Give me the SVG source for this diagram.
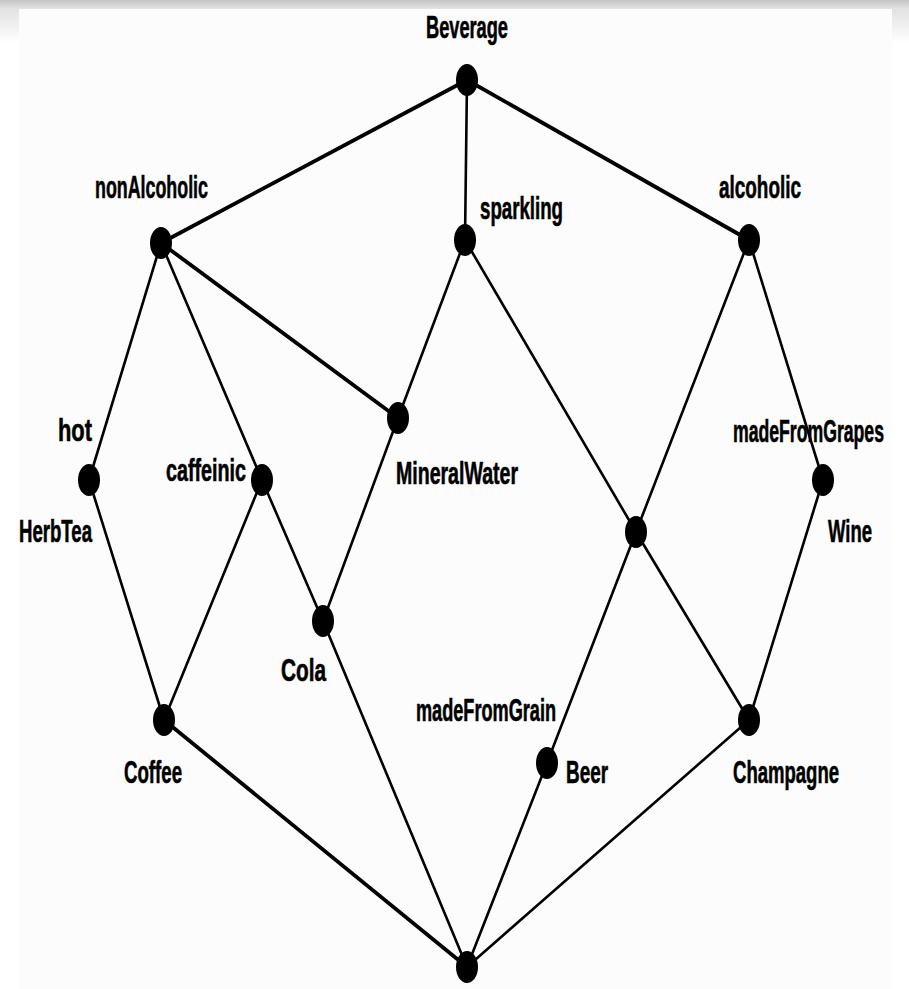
<svg xmlns="http://www.w3.org/2000/svg" width="909" height="989" viewBox="0 0 909 989">
<defs>
<linearGradient id="topg" x1="0" y1="0" x2="0" y2="1"><stop offset="0" stop-color="#c4c4c4"/><stop offset="1" stop-color="#e4e4e4"/></linearGradient>
<linearGradient id="sideg" x1="0" y1="0" x2="0" y2="1"><stop offset="0" stop-color="#e2e2e2"/><stop offset="1" stop-color="#ffffff"/></linearGradient>
</defs>
<style>
.n{fill:#000}
.t{font-family:"Liberation Sans",Arial,sans-serif;font-weight:bold;font-size:31px;fill:#000;stroke:#000;stroke-width:0.6}
.e{stroke:#000;stroke-width:2.6;fill:none;stroke-linecap:round}
.k{stroke-width:3.8}
</style>
<rect x="0" y="0" width="909" height="989" fill="#ffffff"/>
<rect x="0" y="9" width="19" height="34" fill="url(#sideg)"/>
<rect x="892" y="9" width="17" height="34" fill="url(#sideg)"/>
<rect x="19" y="9" width="873" height="980" fill="#fbfcfb"/>
<rect x="0" y="0" width="909" height="9" fill="url(#topg)"/>
<g id="connectors">
<line class="e k" x1="467" y1="80" x2="161" y2="243"/>
<line class="e" x1="467" y1="80" x2="465" y2="240"/>
<line class="e k" x1="467" y1="80" x2="749" y2="240"/>
<line class="e" x1="161" y1="243" x2="89" y2="480"/>
<line class="e" x1="161" y1="243" x2="262" y2="480"/>
<line class="e k" x1="161" y1="243" x2="398" y2="418"/>
<line class="e" x1="465" y1="240" x2="398" y2="418"/>
<line class="e" x1="465" y1="240" x2="636" y2="532"/>
<line class="e" x1="749" y1="240" x2="636" y2="532"/>
<line class="e" x1="749" y1="240" x2="823" y2="480"/>
<line class="e" x1="89" y1="480" x2="164" y2="720"/>
<line class="e" x1="262" y1="480" x2="164" y2="720"/>
<line class="e" x1="262" y1="480" x2="323" y2="621"/>
<line class="e" x1="398" y1="418" x2="323" y2="621"/>
<line class="e" x1="636" y1="532" x2="547" y2="763"/>
<line class="e" x1="636" y1="532" x2="749" y2="720"/>
<line class="e" x1="823" y1="480" x2="749" y2="720"/>
<line class="e k" x1="164" y1="720" x2="467" y2="967"/>
<line class="e" x1="323" y1="621" x2="467" y2="967"/>
<line class="e" x1="547" y1="763" x2="467" y2="967"/>
<line class="e" x1="749" y1="720" x2="467" y2="967"/>
</g>
<g id="beverage"><ellipse class="n" cx="467" cy="80" rx="11" ry="16"/><text class="t" x="426" y="38" textLength="82" lengthAdjust="spacingAndGlyphs">Beverage</text></g>
<g id="nonAlcoholic"><ellipse class="n" cx="161" cy="243" rx="11" ry="16"/><text class="t" x="95" y="198" textLength="113" lengthAdjust="spacingAndGlyphs">nonAlcoholic</text></g>
<g id="sparkling"><ellipse class="n" cx="465" cy="240" rx="11" ry="16"/><text class="t" x="480" y="219" textLength="83" lengthAdjust="spacingAndGlyphs">sparkling</text></g>
<g id="alcoholic"><ellipse class="n" cx="749" cy="240" rx="11" ry="16"/><text class="t" x="719" y="198" textLength="82" lengthAdjust="spacingAndGlyphs">alcoholic</text></g>
<g id="hot"><ellipse class="n" cx="89" cy="480" rx="11" ry="16"/><text class="t" x="58" y="441" textLength="34" lengthAdjust="spacingAndGlyphs">hot</text><text class="t" x="19" y="542" textLength="73" lengthAdjust="spacingAndGlyphs">HerbTea</text></g>
<g id="caffeinic"><ellipse class="n" cx="262" cy="480" rx="11" ry="16"/><text class="t" x="166" y="481" textLength="80" lengthAdjust="spacingAndGlyphs">caffeinic</text></g>
<g id="mineralWater"><ellipse class="n" cx="398" cy="418" rx="11" ry="16"/><text class="t" x="396" y="484" textLength="122" lengthAdjust="spacingAndGlyphs">MineralWater</text></g>
<g id="madeFromGrapes"><ellipse class="n" cx="823" cy="480" rx="11" ry="16"/><text class="t" x="733" y="442" textLength="151" lengthAdjust="spacingAndGlyphs">madeFromGrapes</text><text class="t" x="828" y="542" textLength="44" lengthAdjust="spacingAndGlyphs">Wine</text></g>
<g id="sparklingAlcoholic"><ellipse class="n" cx="636" cy="532" rx="11" ry="16"/></g>
<g id="cola"><ellipse class="n" cx="323" cy="621" rx="11" ry="16"/><text class="t" x="281" y="681" textLength="45" lengthAdjust="spacingAndGlyphs">Cola</text></g>
<g id="coffee"><ellipse class="n" cx="164" cy="720" rx="11" ry="16"/><text class="t" x="124" y="783" textLength="58" lengthAdjust="spacingAndGlyphs">Coffee</text></g>
<g id="beer"><ellipse class="n" cx="547" cy="763" rx="11" ry="16"/><text class="t" x="416" y="721" textLength="140" lengthAdjust="spacingAndGlyphs">madeFromGrain</text><text class="t" x="566" y="783" textLength="42" lengthAdjust="spacingAndGlyphs">Beer</text></g>
<g id="champagne"><ellipse class="n" cx="749" cy="720" rx="11" ry="16"/><text class="t" x="733" y="783" textLength="106" lengthAdjust="spacingAndGlyphs">Champagne</text></g>
<g id="bottom"><ellipse class="n" cx="467" cy="967" rx="11" ry="16"/></g>
</svg>
